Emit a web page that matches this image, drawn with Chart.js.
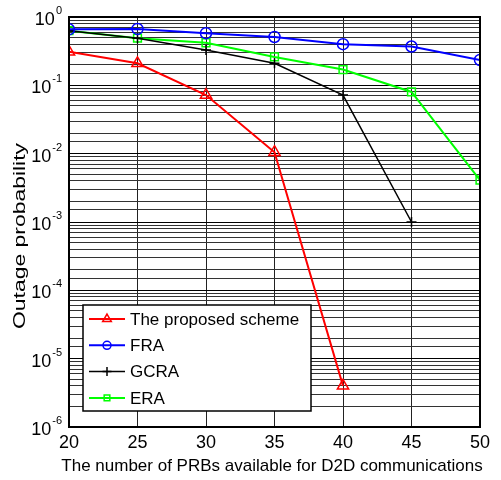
<!DOCTYPE html><html lang="en"><head><meta charset="UTF-8">
<title>Outage probability</title>
<script src="https://cdn.jsdelivr.net/npm/chart.js"></script>
<style>
    body { margin: 0; background: white; }
    #wrap { width: 501px; height: 480px; }
</style>
</head>
<body>
<div id="wrap"><canvas id="chart" width="501" height="480"></canvas></div>
<script>
const prbs = [20, 25, 30, 35, 40, 45, 50];
const proposed = [0.31, 0.21, 0.072, 0.0105, 4e-6];
const fra = [0.66, 0.67, 0.58, 0.51, 0.40, 0.37, 0.235];
const gcra = [0.63, 0.49, 0.33, 0.21, 0.072, 0.001];
const era = [0.63, 0.49, 0.42, 0.26, 0.17, 0.08, 0.0041];
const xTicks = [20, 25, 30, 35, 40, 45, 50];
const yExps = [0, -1, -2, -3, -4, -5, -6];
const seriesNames = ["The proposed scheme", "FRA", "GCRA", "ERA"];

function pts(arr) {
    return arr.map((v, i) => ({x: prbs[i], y: v}));
}

const FONT = "Arial, 'Liberation Sans', sans-serif";

function ds(label, data, color, style, radius, width, legR) {
    return {
        label: label, data: pts(data),
        borderColor: color, borderWidth: width,
        pointStyle: style, pointRadius: radius, pointBorderColor: color,
        pointBackgroundColor: "transparent", pointBorderWidth: 1.5,
        fill: false, tension: 0, legendRadius: legR
    };
}

const datasets = [
    ds(seriesNames[0], proposed, "#ff0000", "triangle", 6.5, 2, 5),
    ds(seriesNames[1], fra, "#0000ff", "circle", 5.5, 2, 4),
    ds(seriesNames[2], gcra, "#000000", "cross", 5, 1.5, 4.5),
    ds(seriesNames[3], era, "#00ff00", "rect", 5.5, 2, 4)
];

const matlabLook = {
    id: "matlabLook",
    afterDraw(chart) {
        const ctx = chart.ctx, a = chart.chartArea;
        const xs = chart.scales.x, ys = chart.scales.y;
        ctx.save();
        // axes box
        ctx.strokeStyle = "#000";
        ctx.lineWidth = 2;
        ctx.strokeRect(a.left, a.top, a.right - a.left, a.bottom - a.top);

        ctx.fillStyle = "#000";
        // x tick labels
        ctx.font = "18px " + FONT;
        ctx.textAlign = "center";
        ctx.textBaseline = "middle";
        xTicks.forEach(t => ctx.fillText(String(t), xs.getPixelForValue(t), a.bottom + 16));

        // y tick labels 10^k
        yExps.forEach(e => {
            const py = ys.getPixelForValue(Math.pow(10, e));
            const sup = String(e);
            ctx.font = "11px " + FONT;
            const sw = ctx.measureText(sup).width;
            const right = a.left - 7;
            ctx.textAlign = "left";
            ctx.textBaseline = "middle";
            ctx.fillText(sup, right - sw, py - 6);
            ctx.font = "18px " + FONT;
            ctx.textAlign = "right";
            ctx.fillText("10", right - sw - 1, py + 3);
        });

        // axis titles
        ctx.font = "17px " + FONT;
        ctx.textAlign = "center";
        ctx.textBaseline = "middle";
        ctx.fillText("The number of PRBs available for D2D communications", 272, a.bottom + 39);
        ctx.save();
        ctx.translate(20, 236);
        ctx.rotate(-Math.PI / 2);
        const yt = "Outage probability";
        const yw = ctx.measureText(yt).width;
        ctx.scale(186 / yw, 1);
        ctx.fillText(yt, 0, 0);
        ctx.restore();

        // legend box
        const lx = 83, ly = 305, lw = 228, lh = 106;
        ctx.fillStyle = "#fff";
        ctx.fillRect(lx, ly, lw, lh);
        ctx.strokeStyle = "#000";
        ctx.lineWidth = 1.5;
        ctx.strokeRect(lx, ly, lw, lh);
        chart.data.datasets.forEach((d, i) => {
            const ry = ly + 14 + i * 26.3;
            ctx.strokeStyle = d.borderColor;
            ctx.fillStyle = "rgba(0,0,0,0)";
            ctx.lineWidth = d.borderWidth;
            ctx.beginPath();
            ctx.moveTo(lx + 6, ry);
            ctx.lineTo(lx + 42, ry);
            ctx.stroke();
            ctx.lineWidth = 1.5;
            Chart.helpers.drawPoint(ctx, {
                pointStyle: d.pointStyle, radius: d.legendRadius, rotation: 0,
                borderWidth: 1.5
            }, lx + 24, ry);
            ctx.fillStyle = "#000";
            ctx.font = "17px " + FONT;
            ctx.textAlign = "left";
            ctx.textBaseline = "middle";
            ctx.fillText(d.label, lx + 47, ry + 1);
        });
        ctx.restore();
    }
};

new Chart(document.getElementById("chart"), {
    type: "line",
    data: { datasets: datasets },
    options: {
        responsive: false,
        animation: false,
        layout: { padding: { left: 69, top: 17, right: 21, bottom: 53 } },
        plugins: { legend: { display: false }, tooltip: { enabled: false } },
        scales: {
            x: {
                type: "linear", min: 20, max: 50,
                ticks: { display: false, stepSize: 5 },
                grid: { color: "#222", lineWidth: 1, drawTicks: false },
                border: { display: false }
            },
            y: {
                type: "logarithmic", min: 1e-6, max: 1,
                ticks: { display: false },
                grid: {
                    drawTicks: false, lineWidth: 1,
                    color: c => {
                        const v = c.tick ? c.tick.value : 0;
                        const m = Math.log10(v);
                        return Math.abs(m - Math.round(m)) < 1e-6 ? "#000" : "#333";
                    }
                },
                border: { display: false }
            }
        }
    },
    plugins: [matlabLook]
});
</script>
</body>
</html>
